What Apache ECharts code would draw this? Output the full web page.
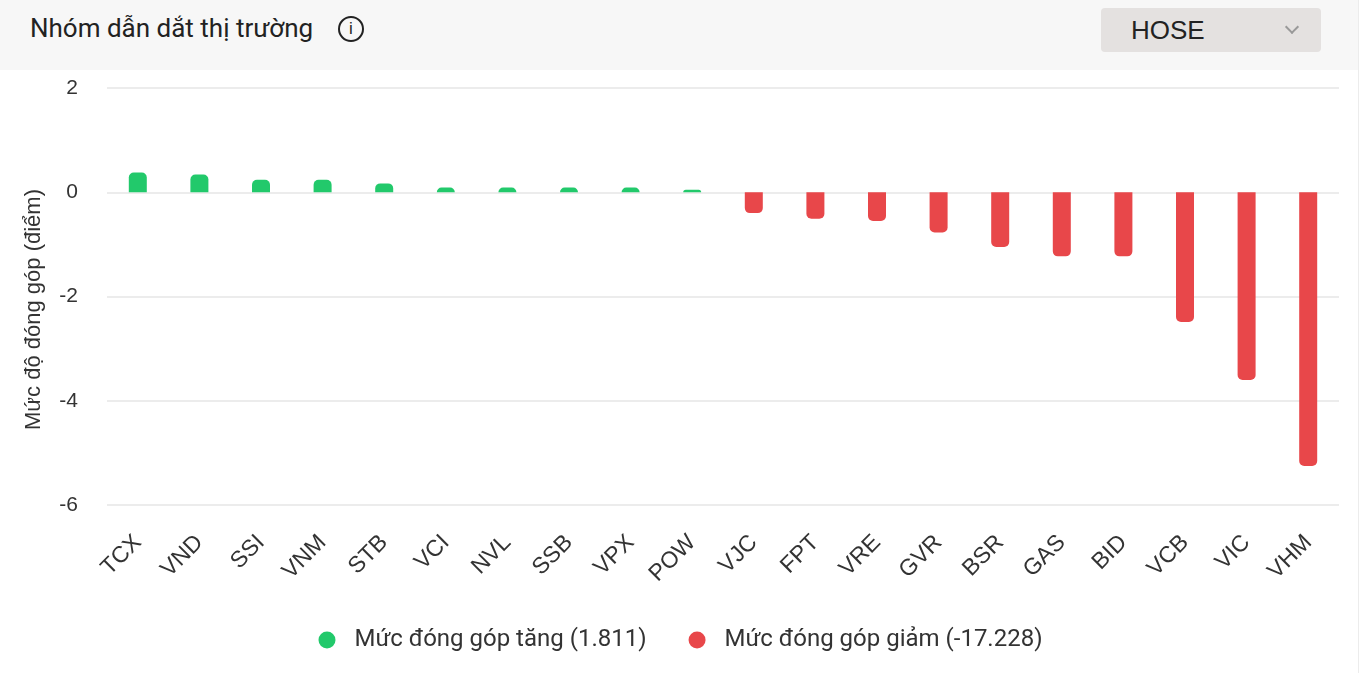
<!DOCTYPE html>
<html>
<head>
<meta charset="utf-8">
<script src="https://cdn.jsdelivr.net/npm/echarts@6/dist/echarts.min.js"></script>
<style>
	html, body { margin: 0; padding: 0; background: #fff; }
	#wrap { position: relative; width: 1361px; height: 673px; overflow: hidden; }
	#head {
		position: absolute; left: 0; top: 0; width: 1358px; height: 70px;
		background: #f7f7f7; z-index: 2;
	}
	#title {
		position: absolute; left: 30px; top: 13px;
		font-family: Roboto, sans-serif; font-size: 26px; color: #222;
	}
	#info {
		position: absolute; left: 338px; top: 16px; width: 26px; height: 26px;
		border: 2px solid #222; border-radius: 50%; box-sizing: border-box;
		font-family: "Liberation Sans", sans-serif; font-size: 17px; line-height: 22px;
		text-align: center; color: #222;
	}
	#select {
		position: absolute; left: 1101px; top: 8px; width: 220px; height: 44px;
		background: #e4e1e0; border-radius: 4px;
	}
	#select span {
		position: absolute; left: 30px; top: 7px;
		font-family: "Liberation Sans", Arial, sans-serif; font-size: 26px; color: #222;
	}
	#select i {
		position: absolute; top: 14px; left: 186px; width: 8px; height: 8px;
		border-right: 2px solid #999; border-bottom: 2px solid #999;
		transform: rotate(45deg);
	}
	#edge { position: absolute; left: 1358px; top: 0; width: 1px; height: 673px; background: #ececec; }
	#chart { position: absolute; left: 0; top: 0; width: 1361px; height: 673px; }
</style>
</head>
<body>
<div id="wrap">
	<div id="chart"></div>
	<div id="head">
		<div id="title">Nhóm dẫn dắt thị trường</div>
		<div id="info">i</div>
		<div id="select"><span>HOSE</span><i></i></div>
	</div>
	<div id="edge"></div>
</div>
<script>
var tickers = ['TCX', 'VND', 'SSI', 'VNM', 'STB', 'VCI', 'NVL', 'SSB', 'VPX', 'POW',
	'VJC', 'FPT', 'VRE', 'GVR', 'BSR', 'GAS', 'BID', 'VCB', 'VIC', 'VHM'];
var upValues = [0.38, 0.34, 0.24, 0.24, 0.17, 0.09, 0.09, 0.09, 0.09, 0.05,
	'-', '-', '-', '-', '-', '-', '-', '-', '-', '-'];
var downValues = ['-', '-', '-', '-', '-', '-', '-', '-', '-', '-',
	-0.40, -0.51, -0.55, -0.77, -1.05, -1.23, -1.23, -2.49, -3.60, -5.25];
var upTotal = '1.811';
var downTotal = '-17.228';

var chart = echarts.init(document.getElementById('chart'));
var option = {
	animation: false,
	textStyle: { fontFamily: '"Liberation Sans", Arial, sans-serif' },
	grid: {
		left: 107,
		right: 22,
		top: 88,
		bottom: 168
	},
	legend: {
		bottom: 16,
		left: 'center',
		icon: 'circle',
		itemWidth: 17,
		itemHeight: 17,
		itemGap: 42,
		textStyle: {
			fontFamily: 'Roboto, sans-serif',
			fontSize: 24,
			color: '#333',
			padding: [0, 0, 0, 14]
		},
		data: ['Mức đóng góp tăng (' + upTotal + ')', 'Mức đóng góp giảm (' + downTotal + ')']
	},
	xAxis: {
		type: 'category',
		data: tickers,
		axisLine: { show: false },
		axisTick: { show: false },
		axisLabel: {
			rotate: 45,
			interval: 0,
			margin: 34,
			fontSize: 23,
			color: '#333'
		}
	},
	yAxis: {
		type: 'value',
		min: -6,
		max: 2,
		interval: 2,
		name: 'Mức độ đóng góp (điểm)',
		nameLocation: 'middle',
		nameGap: 62,
		nameTextStyle: { fontSize: 22, color: '#333', padding: [0, 26, 0, 0] },
		axisLabel: { fontSize: 21, color: '#333', margin: 29 },
		splitLine: { lineStyle: { color: '#e6e6e6', width: 1.5 } }
	},
	series: [
		{
			name: 'Mức đóng góp tăng (' + upTotal + ')',
			type: 'bar',
			stack: 'total',
			barWidth: 18,
			data: upValues,
			itemStyle: { color: '#22c96b', borderRadius: [5, 5, 0, 0] }
		},
		{
			name: 'Mức đóng góp giảm (' + downTotal + ')',
			type: 'bar',
			stack: 'total',
			barWidth: 18,
			data: downValues,
			itemStyle: { color: '#e8474a', borderRadius: [0, 0, 5, 5] }
		}
	]
};
chart.setOption(option);
</script>
</body>
</html>
